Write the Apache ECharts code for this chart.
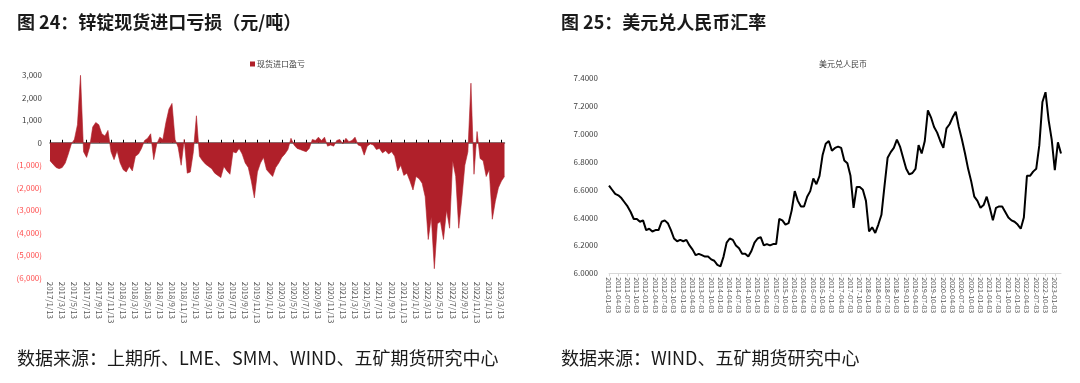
<!DOCTYPE html>
<html><head><meta charset="utf-8">
<script src="https://cdn.jsdelivr.net/npm/echarts@6/dist/echarts.min.js"></script>
<style>html,body{margin:0;padding:0;background:#fff}#c{width:1080px;height:383px}</style>
</head><body><div id="c"></div>
<script>
// Left chart: zinc spot import profit/loss (yuan/t), semi-monthly readings from 2017/1/13 to 2023/3/28
const zincStart = [2017, 1];
const zincProfit = [
  -800,-950,-1100,-1150,-1100,-900,-500,-50,150,800,
  3000,-400,-650,-200,700,900,800,400,300,550,
  -400,-750,-350,-900,-1200,-1300,-1050,-1250,-600,-500,
  -250,100,200,400,-750,-50,250,150,900,1500,
  1750,150,-200,-1000,150,-1350,-1300,-400,1200,-600,
  -800,-950,-1050,-1150,-1350,-1450,-1550,-1050,-1250,-1400,
  -400,-450,-250,-500,-900,-1100,-1700,-2450,-1300,-900,
  -650,-1200,-1350,-1500,-1100,-900,-650,-500,-300,200,
  -100,-250,-300,-350,-400,-250,150,100,250,100,
  250,-150,-100,-150,100,150,-50,200,50,100,
  250,-100,-150,-550,-150,-50,-100,-300,-250,-450,
  -350,-500,-400,-600,-1250,-1000,-1450,-1350,-1700,-2100,
  -1500,-1600,-1800,-2400,-4300,-3300,-5600,-3600,-3500,-4300,
  -3000,-3800,-800,-1500,-3800,-2500,-1000,-400,2650,-1400,
  500,-700,-800,-1500,-1200,-3400,-2600,-2000,-1700,-1500
];
// Right chart: USD/CNY, monthly readings from 2011-01-03 to 2023-03-03
const fxStart = [2011, 1];
const usdCny = [
  6.63,6.60,6.57,6.56,6.54,6.51,6.48,6.44,6.39,6.39,
  6.37,6.38,6.31,6.32,6.30,6.31,6.31,6.37,6.38,6.36,
  6.31,6.25,6.23,6.24,6.23,6.24,6.20,6.17,6.13,6.14,
  6.13,6.12,6.12,6.10,6.09,6.06,6.05,6.12,6.22,6.25,
  6.24,6.20,6.18,6.14,6.14,6.12,6.16,6.22,6.25,6.26,
  6.20,6.21,6.20,6.21,6.21,6.39,6.38,6.35,6.36,6.45,
  6.59,6.52,6.48,6.48,6.55,6.59,6.68,6.64,6.70,6.85,
  6.93,6.95,6.88,6.90,6.91,6.90,6.81,6.79,6.70,6.47,
  6.62,6.62,6.60,6.52,6.30,6.33,6.29,6.35,6.42,6.63,
  6.83,6.87,6.90,6.96,6.91,6.83,6.75,6.71,6.72,6.75,
  6.92,6.86,6.95,7.17,7.12,7.05,7.01,6.95,6.90,7.04,
  7.07,7.12,7.16,7.05,6.96,6.86,6.75,6.66,6.55,6.52,
  6.47,6.49,6.55,6.47,6.38,6.47,6.48,6.48,6.44,6.40,
  6.38,6.37,6.35,6.32,6.40,6.70,6.70,6.73,6.75,6.92,
  7.23,7.30,7.10,6.96,6.74,6.94,6.86
];
const titleLeft = '图 24：锌锭现货进口亏损（元/吨）';
const titleRight = '图 25：美元兑人民币汇率';
const sourceLeft = '数据来源：上期所、LME、SMM、WIND、五矿期货研究中心';
const sourceRight = '数据来源：WIND、五矿期货研究中心';
const seriesLeftName = '现货进口盈亏';
const seriesRightName = '美元兑人民币';

// category labels
const zincDates = [];
{
  let y = zincStart[0], m = zincStart[1];
  while (zincDates.length < zincProfit.length) {
    zincDates.push(y + '/' + m + '/13');
    if (zincDates.length < zincProfit.length) zincDates.push(y + '/' + m + '/28');
    m++; if (m > 12) { m = 1; y++; }
  }
}
const fxDates = [];
{
  let y = fxStart[0], m = fxStart[1];
  while (fxDates.length < usdCny.length) {
    fxDates.push(y + '-' + (m < 10 ? '0' + m : m) + '-03');
    m++; if (m > 12) { m = 1; y++; }
  }
}

const FONT = '"Noto Sans CJK SC", "Noto Sans", sans-serif';
const chart = echarts.init(document.getElementById('c'), null, {renderer: 'canvas'});
chart.setOption({
  backgroundColor: '#fff',
  animation: false,
  textStyle: {fontFamily: FONT},
  title: [
    {text: titleLeft, left: 12, top: 8, textStyle: {fontSize: 18, fontWeight: 'bold', color: '#1a1a1a', fontFamily: FONT}},
    {text: titleRight, left: 556, top: 8, textStyle: {fontSize: 18, fontWeight: 'bold', color: '#1a1a1a', fontFamily: FONT}},
    {text: sourceLeft, left: 12, top: 344, textStyle: {fontSize: 18, fontWeight: 'normal', color: '#1a1a1a', fontFamily: FONT}},
    {text: sourceRight, left: 556, top: 344, textStyle: {fontSize: 18, fontWeight: 'normal', color: '#1a1a1a', fontFamily: FONT}},
    {text: seriesRightName, left: 838, top: 55, textAlign: 'center', textStyle: {fontSize: 8, fontWeight: 'normal', color: '#404040', fontFamily: FONT}}
  ],
  legend: {
    data: [seriesLeftName], left: 245, top: 55, itemWidth: 5, itemHeight: 5, icon: 'rect', itemGap: 2,
    textStyle: {fontSize: 8, color: '#404040', padding: [0, 0, 0, -3]}
  },
  grid: [
    {left: 50, top: 75.3, width: 454.5, height: 202.4, containLabel: false},
    {left: 609, top: 78.3, width: 452, height: 195, containLabel: false}
  ],
  xAxis: [
    {type: 'category', gridIndex: 0, data: zincDates, boundaryGap: false, position: 'bottom',
     axisLine: {show: false, onZero: false}, axisTick: {show: false},
     axisLabel: {interval: 3, rotate: -90, fontSize: 8, color: '#595959', margin: 4}},
    {type: 'category', gridIndex: 0, data: zincDates, boundaryGap: false,
     axisLine: {show: true, onZero: true, lineStyle: {color: '#595959', width: 1.5}},
     axisTick: {show: true, interval: 3, length: 3, inside: false, lineStyle: {color: '#000', width: 1}},
     axisLabel: {show: false}},
    {type: 'category', gridIndex: 1, data: fxDates, boundaryGap: false,
     axisLine: {show: true, onZero: false, lineStyle: {color: '#d9d9d9', width: 1}},
     axisTick: {show: true, interval: 2, length: 3, lineStyle: {color: '#d9d9d9'}},
     axisLabel: {interval: 2, rotate: -90, fontSize: 7, color: '#595959', margin: 4}}
  ],
  yAxis: [
    {type: 'value', gridIndex: 0, min: -6000, max: 3000, interval: 1000,
     splitLine: {show: false}, axisLine: {show: false}, axisTick: {show: false},
     axisLabel: {fontSize: 8, margin: 8,
       formatter: function (v) {
         const s = Math.abs(v).toLocaleString('en-US');
         return v < 0 ? '{n|(' + s + ')}' : '{p|' + s + '}';
       },
       rich: {n: {color: '#ff4d4d', fontSize: 8}, p: {color: '#404040', fontSize: 8}}}},
    {type: 'value', gridIndex: 1, min: 6.0, max: 7.4, interval: 0.2,
     splitLine: {show: false}, axisLine: {show: false}, axisTick: {show: false},
     axisLabel: {fontSize: 8, color: '#404040', margin: 11, formatter: function (v) { return v.toFixed(4); }}}
  ],
  series: [
    {name: seriesLeftName, type: 'line', xAxisIndex: 0, yAxisIndex: 0, data: zincProfit,
     symbol: 'none', color: '#b0202a', lineStyle: {width: 0.6, color: '#b0202a'},
     areaStyle: {color: '#b0202a', opacity: 1, origin: 0}, z: 1},
    {name: seriesRightName, type: 'line', xAxisIndex: 2, yAxisIndex: 1, data: usdCny,
     symbol: 'none', lineStyle: {width: 2, color: '#000'}, color: '#000'}
  ]
});
</script>
</body></html>
